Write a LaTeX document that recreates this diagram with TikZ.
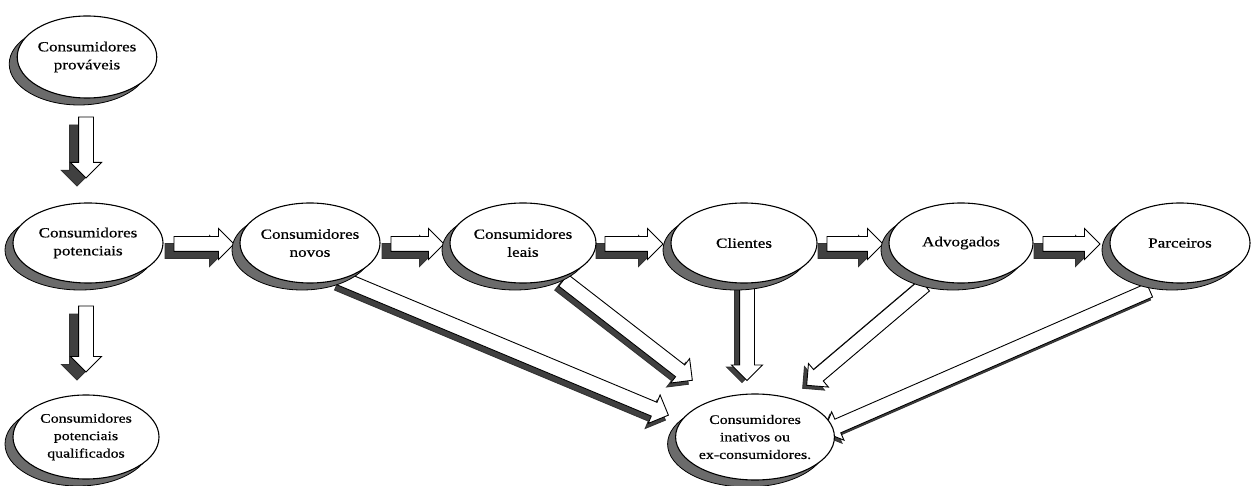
\documentclass[tikz,border=0pt]{standalone}
\usepackage{fontspec}
\newfontfamily\lblfont[FakeStretch=1.22,FakeBold=0.6]{Liberation Serif}
\usetikzlibrary{shapes.geometric,shapes.arrows,shadows,calc}
\pgfdeclarelayer{bg}
\pgfsetlayers{bg,main}

\tikzset{
  stage/.style={ellipse, draw=black, line width=1.1pt, fill=white, inner sep=0pt,
    minimum width=146pt, minimum height=80pt, align=center,
    font=\lblfont\fontsize{14}{18}\selectfont,
    drop shadow={shadow xshift=-8pt, shadow yshift=-7pt, opacity=1,
      fill=black!58, draw=black, line width=0.8pt}},
  smallstage/.style={stage, font=\lblfont\fontsize{13}{17.5}\selectfont},
  arrbody/.style={single arrow, draw=black, line width=0.9pt, fill=white,
    inner sep=7pt, single arrow head extend=8pt, minimum width=30pt,
    single arrow tip angle=90, anchor=tail},
  arrshadow/.style={arrbody, draw=black!80, fill=black!75}
}

% hollow block arrow with a dark offset copy beneath it
\newcommand\blkarrow[3][-7pt,-6pt]{%
  \path let \p1=(#2), \p2=(#3),
    \n1={atan2(\y2-\y1,\x2-\x1)}, \n2={veclen(\x2-\x1,\y2-\y1)} in
    node[arrshadow, rotate=\n1, minimum height=\n2] at ($(\p1)+(#1)$) {}
    node[arrbody, rotate=\n1, minimum height=\n2] at (\p1) {};
}

\begin{document}
\begin{tikzpicture}[x=1pt, y=-1pt]
\useasboundingbox (0,0) rectangle (1252,486);

% stages of the customer relationship
\node[stage, minimum width=134pt, minimum height=82pt] (A) at (87,57) {Consumidores\\prováveis};
\node[stage, minimum width=150pt] (B) at (88,243) {Consumidores\\potenciais};
\node[stage, minimum width=140pt] (C) at (310,243) {Consumidores\\novos};
\node[stage] (D) at (523,243) {Consumidores\\leais};
\node[stage] (E) at (744,243) {Clientes};
\node[stage, minimum width=144pt] (F) at (961,243) {Advogados};
\node[stage, minimum width=140pt] (G) at (1180,243) {Parceiros};
\node[smallstage, minimum width=146pt, minimum height=84pt] (H) at (86,437) {Consumidores\\potenciais\\qualificados};
\node[smallstage, minimum width=150pt, minimum height=86pt] (I) at (755,437) {Consumidores\\inativos ou\\ex-consumidores.};

\begin{pgfonlayer}{bg}
% vertical progression on the left
\blkarrow[-9pt,-8pt]{$(A.south)+(-1,18)$}{$(B.north)+(-2,-25)$}
\blkarrow[-9pt,-8pt]{$(B.south)+(-2,22)$}{$(H.north)+(0,-23)$}
% main horizontal progression
\blkarrow[-9pt,-7pt]{$(B.east)+(10,1)$}{$(C.west)+(-6,1)$}
\blkarrow[-9pt,-7pt]{$(C.east)+(10,1)$}{$(D.west)+(-6,1)$}
\blkarrow[-9pt,-7pt]{$(D.east)+(8,1)$}{$(E.west)+(-8,1)$}
\blkarrow[-9pt,-7pt]{$(E.east)+(9,1)$}{$(F.west)+(-6,1)$}
\blkarrow[-9pt,-7pt]{$(F.east)+(9,1)$}{$(G.west)+(-10,1)$}
% every stage can lose its customers
\blkarrow[-3pt,-5pt]{$(C)+(30,35)$}{$(I)+(-87,-22)$}
\blkarrow[-4pt,-4pt]{$(D)+(40,37)$}{$(I)+(-63,-57)$}
\blkarrow[-5pt,-2pt]{$(E)+(3,40)$}{$(I)+(-8,-57)$}
\blkarrow[-4pt,-3pt]{$(F)+(-36,42)$}{$(I)+(52,-52)$}
\blkarrow[-2pt,-3pt]{$(G)+(-30,47)$}{$(I)+(69,-5)$}
\end{pgfonlayer}
\end{tikzpicture}
\end{document}
